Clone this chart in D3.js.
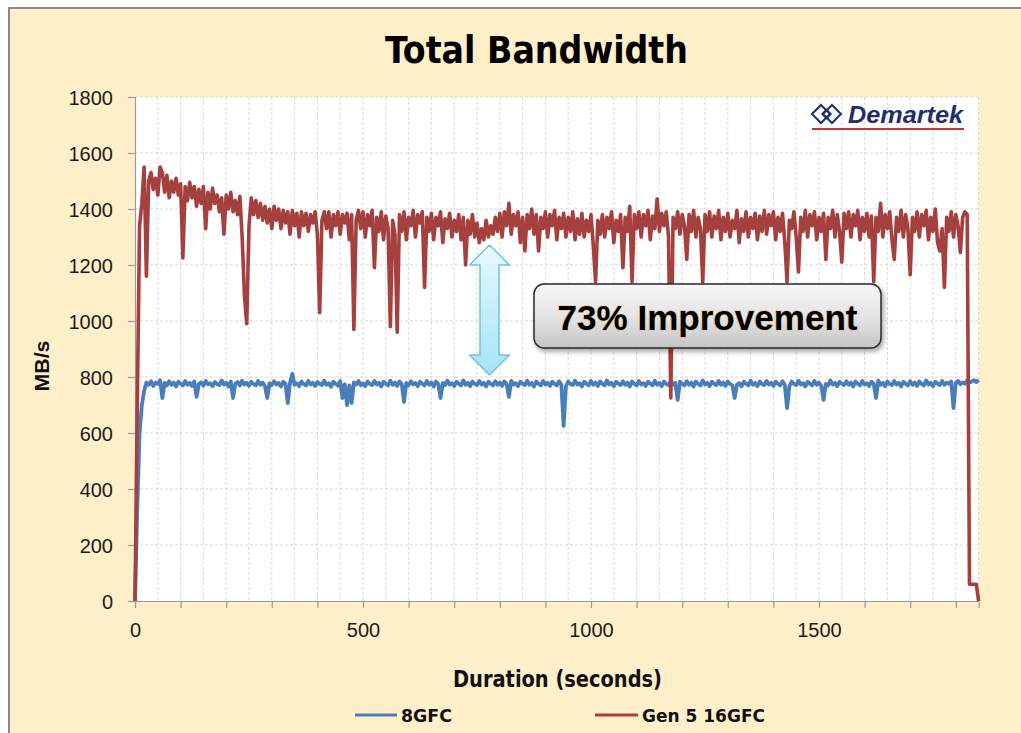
<!DOCTYPE html>
<html>
<head>
<meta charset="utf-8">
<script src="https://cdn.jsdelivr.net/npm/d3@7"></script>
<style>
  html, body { margin: 0; padding: 0; background: #ffffff; }
  svg { display: block; }
</style>
</head>
<body>
<svg id="chart" width="1021" height="733"></svg>
<script>
// ---------------- DATA ----------------
const chartTitle = "Total Bandwidth";
const xAxisTitle = "Duration (seconds)";
const yAxisTitle = "MB/s";
const seriesNames = ["8GFC", "Gen 5 16GFC"];
const yTickValues = [0, 200, 400, 600, 800, 1000, 1200, 1400, 1600, 1800];
const xTickLabels = [0, 500, 1000, 1500];
const sampleStepSeconds = 5;
const calloutText = "73% Improvement";
const logoText = "Demartek";

// Gen 5 16GFC, one reading every 5 s from 0 s to 1850 s
const gen5_16GFC = [
  0, 700, 1340, 1420, 1550, 1160, 1500, 1530, 1470, 1510, 1450, 1550, 1530, 1460, 1520, 1440, 1500, 1460, 1510, 1450,
  1490, 1225, 1480, 1430, 1495, 1440, 1480, 1410, 1470, 1420, 1480, 1330, 1460, 1400, 1475, 1420, 1450, 1390, 1440, 1310,
  1450, 1400, 1460, 1390, 1430, 1380, 1445, 1300, 1090, 990, 1340, 1440, 1380, 1430, 1370, 1420, 1360, 1410, 1350, 1400,
  1330, 1410, 1360, 1400, 1330, 1395, 1350, 1390, 1310, 1395, 1340, 1385, 1300, 1390, 1340, 1385, 1320, 1380, 1350, 1390,
  1310, 1030, 1360, 1390, 1330, 1390, 1300, 1380, 1340, 1390, 1310, 1380, 1350, 1385, 1290, 1380, 970, 1360, 1395, 1330,
  1390, 1300, 1380, 1340, 1395, 1190, 1370, 1320, 1390, 1290, 1375, 1330, 980, 1360, 1310, 960, 1380, 1320, 1390, 1290,
  1370, 1340, 1395, 1300, 1380, 1350, 1390, 1120, 1370, 1320, 1385, 1290, 1370, 1340, 1390, 1280, 1365, 1330, 1385, 1300,
  1360, 1320, 1380, 1290, 1370, 1200, 1360, 1310, 1380, 1300, 1350, 1280, 1330, 1290, 1360, 1300, 1340, 1310, 1370, 1320,
  1385, 1300, 1390, 1340, 1420, 1310, 1380, 1340, 1390, 1280, 1370, 1250, 1380, 1330, 1400, 1310, 1380, 1250, 1370, 1330,
  1390, 1300, 1380, 1340, 1395, 1290, 1370, 1330, 1385, 1300, 1370, 1320, 1390, 1290, 1365, 1310, 1385, 1300, 1360, 1320,
  1380, 1270, 1140, 1360, 1310, 1380, 1300, 1370, 1330, 1390, 1280, 1360, 1320, 1380, 1190, 1370, 1320, 1410, 1140, 1380,
  1330, 1390, 1300, 1380, 1340, 1395, 1290, 1375, 1330, 1436, 1320, 1385, 1340, 1390, 1300, 725, 1370, 1330, 1390, 1310,
  1380, 1340, 1220, 1380, 1320, 1395, 1300, 1370, 1330, 1140, 1380, 1320, 1390, 1300, 1375, 1330, 1395, 1290, 1370, 1320,
  1385, 1300, 1360, 1330, 1395, 1280, 1365, 1320, 1390, 1300, 1370, 1330, 1385, 1290, 1375, 1320, 1395, 1310, 1380, 1340,
  1390, 1290, 1370, 1320, 1385, 1280, 1140, 1360, 1330, 1390, 1300, 1175, 1370, 1320, 1395, 1300, 1380, 1340, 1390, 1290,
  1370, 1320, 1385, 1220, 1370, 1330, 1395, 1300, 1380, 1320, 1210, 1385, 1330, 1390, 1300, 1380, 1340, 1395, 1290, 1370,
  1320, 1385, 1300, 1375, 1140, 1370, 1320, 1420, 1300, 1380, 1330, 1390, 1290, 1220, 1370, 1320, 1395, 1300, 1380, 1330,
  1165, 1370, 1320, 1390, 1300, 1380, 1340, 1395, 1290, 1370, 1320, 1400, 1280, 1250, 1330, 1120, 1370, 1320, 1390, 1300,
  1380, 1340, 1245, 1370, 1390, 1380, 60, 60, 60, 60, 0
];

// 8GFC, one reading every 5 s from 0 s to 1850 s
const gfc8 = [
  0, 330, 600, 700, 750, 780, 772, 785, 768, 780, 775, 788, 725, 779, 770, 785, 772, 780, 766, 783,
  776, 770, 786, 772, 779, 768, 784, 729, 775, 781, 769, 786, 774, 778, 767, 782, 775, 771, 788, 773,
  779, 766, 784, 725, 776, 782, 770, 787, 773, 779, 768, 783, 775, 770, 786, 772, 780, 767, 725, 778,
  771, 785, 774, 779, 766, 783, 776, 707, 780, 811, 772, 778, 767, 784, 775, 770, 786, 773, 779, 768,
  782, 775, 771, 787, 772, 778, 765, 783, 776, 769, 785, 725, 774, 700, 770, 707, 781, 773, 786, 770,
  778, 767, 784, 775, 771, 786, 773, 779, 766, 783, 776, 770, 787, 772, 780, 768, 784, 775, 711, 779,
  771, 785, 774, 779, 767, 783, 776, 770, 786, 772, 780, 766, 784, 775, 725, 779, 771, 787, 773, 778,
  768, 783, 776, 770, 788, 772, 779, 767, 784, 775, 771, 786, 773, 779, 766, 783, 776, 770, 785, 772,
  780, 768, 784, 775, 729, 786, 773, 778, 767, 783, 776, 771, 787, 772, 779, 766, 784, 775, 770, 786,
  773, 779, 768, 783, 776, 770, 785, 772, 625, 767, 784, 775, 771, 787, 773, 778, 766, 783, 776, 770,
  786, 772, 780, 768, 784, 775, 770, 788, 773, 779, 767, 783, 776, 771, 785, 772, 780, 766, 784, 775,
  770, 786, 773, 778, 768, 783, 776, 770, 787, 772, 779, 767, 784, 775, 771, 786, 773, 779, 718, 783,
  776, 770, 785, 772, 780, 766, 784, 775, 770, 788, 773, 779, 767, 783, 776, 771, 786, 772, 780, 768,
  784, 775, 770, 725, 773, 778, 766, 783, 776, 770, 787, 772, 779, 767, 784, 775, 771, 786, 773, 779,
  768, 783, 776, 770, 785, 772, 689, 767, 784, 775, 771, 787, 773, 778, 766, 783, 776, 770, 786, 772,
  780, 768, 718, 775, 770, 788, 773, 779, 767, 783, 776, 771, 785, 772, 780, 766, 784, 775, 770, 786,
  773, 778, 768, 783, 776, 725, 787, 772, 779, 767, 784, 775, 771, 786, 773, 779, 766, 783, 776, 770,
  785, 772, 780, 768, 784, 775, 770, 788, 773, 779, 767, 783, 776, 771, 786, 772, 780, 776, 784, 689,
  779, 786, 774, 781, 776, 788, 780, 784, 789, 782, 790
];

const seriesColors = ["#4A7EBB", "#A5403E"];

// ---------------- LAYOUT ----------------
const svg = d3.select("#chart");
const plot = { left: 135, top: 97, right: 978.6, bottom: 601 };

const x = d3.scaleLinear().domain([0, 1850]).range([plot.left, plot.right]);
const y = d3.scaleLinear().domain([0, 1800]).range([plot.bottom, plot.top]);

const defs = svg.append("defs");
const boxGrad = defs.append("linearGradient").attr("id", "boxGrad").attr("x1", 0).attr("y1", 0).attr("x2", 0).attr("y2", 1);
boxGrad.append("stop").attr("offset", "0%").attr("stop-color", "#f7f7f7");
boxGrad.append("stop").attr("offset", "55%").attr("stop-color", "#e2e2e2");
boxGrad.append("stop").attr("offset", "100%").attr("stop-color", "#c4c4c4");
const arrowGrad = defs.append("linearGradient").attr("id", "arrowGrad").attr("x1", 0).attr("y1", 0).attr("x2", 0).attr("y2", 1);
arrowGrad.append("stop").attr("offset", "0%").attr("stop-color", "#e8f9fe");
arrowGrad.append("stop").attr("offset", "100%").attr("stop-color", "#a6e3f4");
const shadow = defs.append("filter").attr("id", "shadow").attr("x", "-10%").attr("y", "-20%").attr("width", "130%").attr("height", "160%");
shadow.append("feDropShadow").attr("dx", 2).attr("dy", 3).attr("stdDeviation", 2.5).attr("flood-color", "#000").attr("flood-opacity", 0.35);

// outer frame
svg.append("rect").attr("x", 0).attr("y", 0).attr("width", 1021).attr("height", 733).attr("fill", "#ffffff");
svg.append("rect").attr("x", 9).attr("y", 8).attr("width", 1030).attr("height", 760)
  .attr("fill", "#FFF0C9").attr("stroke", "#8a8a8a").attr("stroke-width", 2);

// plot area
svg.append("rect").attr("x", plot.left).attr("y", plot.top)
  .attr("width", plot.right - plot.left).attr("height", plot.bottom - plot.top).attr("fill", "#ffffff");

// gridlines
svg.append("g").selectAll("line").data(d3.range(50, 1851, 50)).join("line")
  .attr("x1", d => x(d)).attr("x2", d => x(d)).attr("y1", plot.top).attr("y2", plot.bottom)
  .attr("stroke", "#d9d9d9").attr("stroke-width", 1).attr("stroke-dasharray", "3,2");
svg.append("g").selectAll("line").data(yTickValues.filter(v => v > 0)).join("line")
  .attr("x1", plot.left).attr("x2", plot.right).attr("y1", d => y(d)).attr("y2", d => y(d))
  .attr("stroke", "#d9d9d9").attr("stroke-width", 1).attr("stroke-dasharray", "3,2");

// logo
const logo = svg.append("g");
[[821, 114], [832, 114]].forEach(([cx, cy]) => {
  logo.append("path").attr("d", `M${cx - 9},${cy} L${cx},${cy - 9} L${cx + 9},${cy} L${cx},${cy + 9} Z`)
    .attr("fill", "none").attr("stroke", "#1f2f6b").attr("stroke-width", 2);
});
logo.append("path").attr("d", `M822,114 L826.5,109.5 L831,114 L826.5,118.5 Z`).attr("fill", "none").attr("stroke", "#1f2f6b").attr("stroke-width", 1.5);
logo.append("text").attr("x", 848).attr("y", 123).text(logoText)
  .attr("font-family", "'Liberation Sans', Arial, sans-serif").attr("font-weight", "bold").attr("font-style", "italic")
  .attr("font-size", 24).attr("fill", "#1f2f6b").attr("textLength", 115).attr("lengthAdjust", "spacingAndGlyphs");
logo.append("line").attr("x1", 812).attr("x2", 964).attr("y1", 129).attr("y2", 129)
  .attr("stroke", "#c8372d").attr("stroke-width", 2.2);

// axes
const yAxis = d3.axisLeft(y).tickValues(yTickValues).tickSize(7).tickPadding(15).tickFormat(d3.format("d"));
const gy = svg.append("g").attr("transform", `translate(${plot.left},0)`).call(yAxis);
const xAxis = d3.axisBottom(x).tickValues(d3.range(0, 1801, 100)).tickSize(7).tickPadding(15)
  .tickFormat(d => xTickLabels.includes(d) ? d : "");
const gx = svg.append("g").attr("transform", `translate(0,${plot.bottom})`).call(xAxis);
[gx, gy].forEach(g => {
  g.select(".domain").attr("stroke", "#9a9a9a").attr("stroke-width", 1.2);
  g.selectAll(".tick line").attr("stroke", "#9a9a9a").attr("stroke-width", 1.2);
  g.selectAll(".tick text").attr("font-family", "'Liberation Sans', Arial, sans-serif")
    .attr("font-size", 20).attr("fill", "#1a1a1a");
});
gy.selectAll(".tick text").attr("dy", "0.36em");

// lines
const line = d3.line().x((d, i) => x(i * sampleStepSeconds)).y(d => y(d));
svg.append("path").datum(gfc8).attr("d", line).attr("fill", "none")
  .attr("stroke", seriesColors[0]).attr("stroke-width", 3.8).attr("stroke-linejoin", "round");
svg.append("path").datum(gen5_16GFC).attr("d", line).attr("fill", "none")
  .attr("stroke", seriesColors[1]).attr("stroke-width", 3.6).attr("stroke-linejoin", "round");

// double arrow
const ax = 489.5, aTop = 245, aBot = 375, hw = 20, sw = 9.5, hh = 20;
svg.append("path")
  .attr("d", `M${ax},${aTop} L${ax + hw},${aTop + hh} L${ax + sw},${aTop + hh} L${ax + sw},${aBot - hh} L${ax + hw},${aBot - hh} L${ax},${aBot} L${ax - hw},${aBot - hh} L${ax - sw},${aBot - hh} L${ax - sw},${aTop + hh} L${ax - hw},${aTop + hh} Z`)
  .attr("fill", "url(#arrowGrad)").attr("stroke", "#6cc6de").attr("stroke-width", 1.5).attr("stroke-linejoin", "round");

// callout
svg.append("rect").attr("x", 534).attr("y", 284).attr("width", 347).attr("height", 64).attr("rx", 10)
  .attr("fill", "url(#boxGrad)").attr("stroke", "#2a2a2a").attr("stroke-width", 1.5).attr("filter", "url(#shadow)");
svg.append("text").attr("x", 707.5).attr("y", 330).attr("text-anchor", "middle").text(calloutText)
  .attr("font-family", "'Liberation Sans', Arial, sans-serif").attr("font-weight", "bold").attr("font-size", 35)
  .attr("fill", "#000").attr("stroke", "#e9b96a").attr("stroke-width", 1.4).attr("stroke-opacity", 0.6)
  .attr("paint-order", "stroke").attr("textLength", 300).attr("lengthAdjust", "spacingAndGlyphs");

// titles
const narrow = "'Liberation Sans Narrow', 'Arial Narrow', 'DejaVu Sans Condensed', sans-serif";
svg.append("text").attr("x", 536.5).attr("y", 63).attr("text-anchor", "middle").text(chartTitle)
  .attr("font-family", narrow).attr("font-weight", "bold").attr("font-size", 37).attr("fill", "#000")
  .attr("textLength", 303).attr("lengthAdjust", "spacingAndGlyphs");
svg.append("text").attr("x", 557.5).attr("y", 687).attr("text-anchor", "middle").text(xAxisTitle)
  .attr("font-family", narrow).attr("font-weight", "bold").attr("font-size", 23).attr("fill", "#111")
  .attr("textLength", 209).attr("lengthAdjust", "spacingAndGlyphs");
svg.append("text").attr("transform", "translate(49,366) rotate(-90)").attr("text-anchor", "middle").text(yAxisTitle)
  .attr("font-family", "'Liberation Sans', Arial, sans-serif").attr("font-weight", "bold").attr("font-size", 21).attr("fill", "#111")
  .attr("textLength", 51).attr("lengthAdjust", "spacingAndGlyphs");

// legend
const legendItems = [
  { name: seriesNames[0], color: seriesColors[0], x1: 355, x2: 397, tx: 401, tw: 51 },
  { name: seriesNames[1], color: seriesColors[1], x1: 595, x2: 638, tx: 642, tw: 123 }
];
const lg = svg.append("g");
legendItems.forEach(it => {
  lg.append("line").attr("x1", it.x1).attr("x2", it.x2).attr("y1", 715).attr("y2", 715)
    .attr("stroke", it.color).attr("stroke-width", 3.2);
  lg.append("text").attr("x", it.tx).attr("y", 722).text(it.name)
    .attr("font-family", narrow).attr("font-weight", "bold").attr("font-size", 18).attr("fill", "#111")
    .attr("textLength", it.tw).attr("lengthAdjust", "spacingAndGlyphs");
});
</script>
</body>
</html>
